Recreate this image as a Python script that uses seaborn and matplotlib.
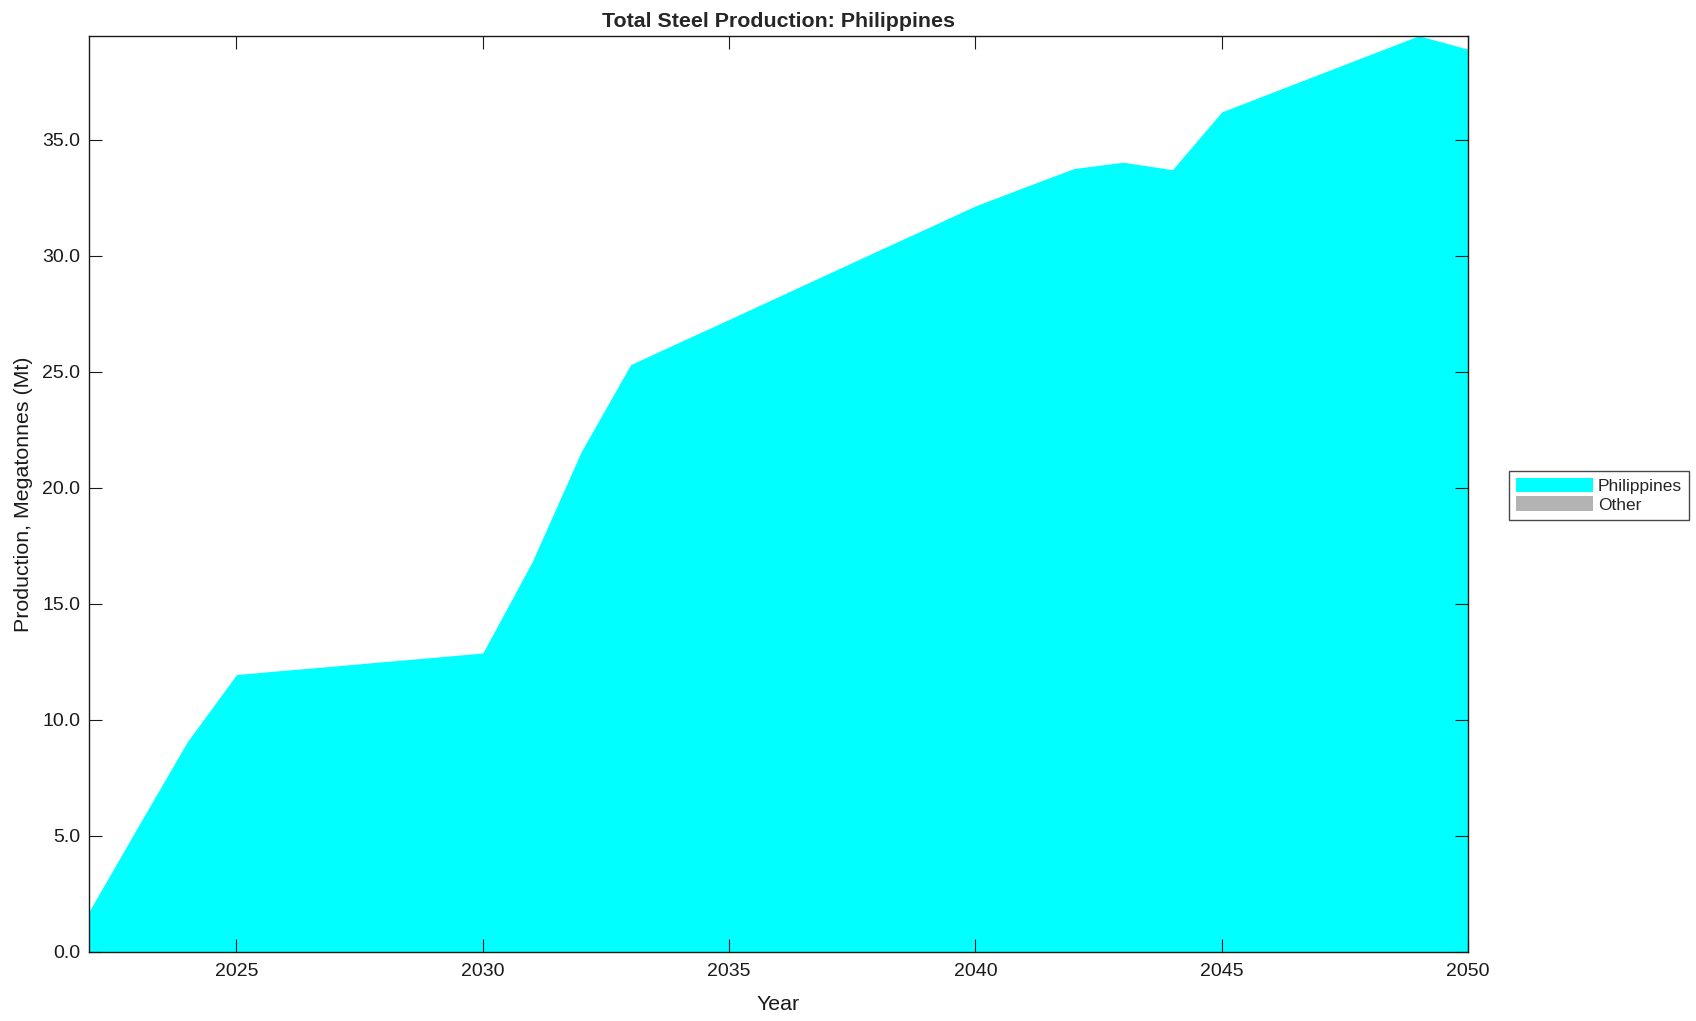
import matplotlib
matplotlib.use("Agg")
import matplotlib.pyplot as plt
import pandas as pd
import seaborn as sns
from matplotlib.ticker import FormatStrFormatter

# Data (Mt)
years = list(range(2022, 2051))
philippines = [1.72, 5.40, 9.05, 11.95, 12.14, 12.32, 12.51, 12.69, 12.88,
               16.80, 21.56, 25.30, 26.28, 27.25, 28.23, 29.21, 30.19, 31.16,
               32.14, 32.95, 33.75, 34.02, 33.70, 36.19, 37.01, 37.83, 38.65,
               39.47, 38.89]
other = [0.0, 0.0, 0.0, 0.0, 0.0, 0.0, 0.0, 0.0, 0.0, 0.0, 0.0, 0.0, 0.0, 0.0,
         0.0, 0.0, 0.0, 0.0, 0.0, 0.0, 0.0, 0.0, 0.0, 0.0, 0.0, 0.0, 0.0, 0.0, 0.0]
x_ticks = [2025, 2030, 2035, 2040, 2045, 2050]
y_ticks = [0, 5, 10, 15, 20, 25, 30, 35]

df = pd.DataFrame({"year": years, "Philippines": philippines, "Other": other})

sns.set_style("white")
plt.rcParams["font.family"] = ["Liberation Sans", "DejaVu Sans"]

fig = plt.figure(figsize=(16.96, 10.21), dpi=100)
ax = fig.add_axes([0.0523, 0.0676, 0.8133, 0.8974])

ax.stackplot(df["year"], df["Philippines"], df["Other"],
             colors=["#00ffff", "#b3b3b3"], labels=["Philippines", "Other"],
             linewidth=0, zorder=0.5)
ax.set_axisbelow(False)

ax.set_xlim(2022, 2050)
ax.set_ylim(0, max(philippines))
ax.set_xticks(x_ticks)
ax.set_yticks(y_ticks)
ax.yaxis.set_major_formatter(FormatStrFormatter("%.1f"))
ax.tick_params(direction="in", length=9.4, width=0.8, top=True, right=True,
               bottom=True, left=True, labelsize=14, colors="#1a1a1a", pad=8)
ax.tick_params(axis="y", pad=6)
for s in ax.spines.values():
    s.set_color("#1a1a1a")
    s.set_linewidth(1.0)
    s.set_zorder(5)

ax.set_title("Total Steel Production: Philippines", fontsize=15.4,
             fontweight="bold", pad=6)
ax.set_xlabel("Year", fontsize=15.4, color="#1a1a1a", labelpad=11)
ax.set_ylabel("Production, Megatonnes (Mt)", fontsize=15.4, color="#1a1a1a",
              labelpad=7)

leg = ax.legend(loc="center left", bbox_to_anchor=(0.890, 0.515),
                bbox_transform=fig.transFigure, fontsize=12.5, frameon=True,
                fancybox=False, edgecolor="#1a1a1a", handlelength=4.4,
                handleheight=0.9, handletextpad=0.3, borderpad=0.4,
                labelspacing=0.15, borderaxespad=0)
leg.get_frame().set_linewidth(1.0)

fig.savefig("out.png", dpi=100)
